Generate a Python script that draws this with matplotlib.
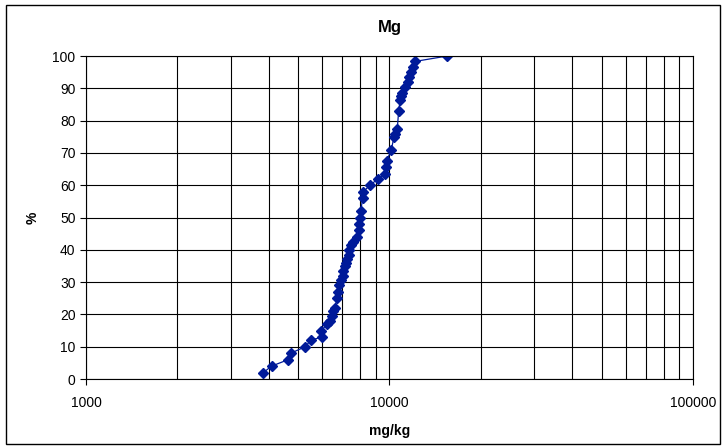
import matplotlib
matplotlib.use('Agg')
import matplotlib.pyplot as plt
from matplotlib.patches import Rectangle
from matplotlib.ticker import FixedLocator, FixedFormatter, LogLocator, NullFormatter

# Mg concentrations (mg/kg) and cumulative percentage
mg_values = [3840, 4090, 4640, 4730, 5280, 5500, 5980, 5960, 6240, 6370,
             6470, 6530, 6630, 6700, 6770, 6830, 6910, 7010, 7040, 7120,
             7190, 7230, 7340, 7370, 7480, 7570, 7830, 7920, 7950, 7990,
             8040, 8160, 8200, 8630, 9170, 9690, 9740, 9790, 10140, 10350,
             10450, 10610, 10720, 10850, 10940, 10990, 11220, 11510, 11620,
             11750, 11920, 12110, 15500]
percent = [2, 4, 6, 8, 10, 12, 13, 15, 17, 18,
           19.5, 21, 22, 25, 27, 29, 30.5, 32, 33.5, 35,
           36, 37, 38.5, 40, 41.5, 42.5, 44, 46, 48, 50,
           52, 56, 58, 60, 62, 63.5, 65.5, 67.5, 71, 75,
           76, 77.5, 83, 86.5, 87.5, 88.5, 90.5, 92, 93.5,
           95, 96.5, 98.3, 100]

x_ticks = [1000, 10000, 100000]
x_labels = ['1000', '10000', '100000']
y_ticks = list(range(0, 101, 10))

plt.rcParams['font.family'] = ['Liberation Sans', 'DejaVu Sans']

fig = plt.figure(figsize=(7.27, 4.48), dpi=100)
ax = fig.add_axes([0.1183, 0.154, 0.8349, 0.721])

ax.plot(mg_values, percent, color='#001a99', linewidth=0.9,
        marker='D', markersize=5, markerfacecolor='#001a99',
        markeredgecolor='#001a99')

ax.set_xscale('log')
ax.set_xlim(1000, 100000)
ax.set_ylim(0, 100)

ax.xaxis.set_major_locator(FixedLocator(x_ticks))
ax.xaxis.set_major_formatter(FixedFormatter(x_labels))
ax.xaxis.set_minor_locator(LogLocator(base=10, subs=range(2, 10)))
ax.xaxis.set_minor_formatter(NullFormatter())
ax.set_yticks(y_ticks)

ax.grid(True, which='major', color='black', linewidth=0.8)
ax.grid(True, which='minor', axis='x', color='black', linewidth=0.8)
ax.set_axisbelow(True)

ax.tick_params(axis='both', which='major', direction='out', length=4,
               width=0.8, labelsize=10, color='black')
ax.tick_params(axis='x', which='minor', length=0)
ax.tick_params(axis='x', pad=8)

for side in ['left', 'bottom', 'top', 'right']:
    ax.spines[side].set_color('black')
    ax.spines[side].set_linewidth(0.8)

ax.set_title('Mg', fontsize=12, fontweight='bold', pad=17)
ax.set_xlabel('mg/kg', fontsize=10, fontweight='bold', labelpad=10)
ax.set_ylabel('%', fontsize=10, fontweight='bold', labelpad=9)

# outer chart frame
fig.patches.append(Rectangle((6 / 727, 4 / 448), 714 / 727, 439 / 448,
                             transform=fig.transFigure, fill=False,
                             edgecolor='black', linewidth=1.0))

fig.savefig('out.png', dpi=100)
